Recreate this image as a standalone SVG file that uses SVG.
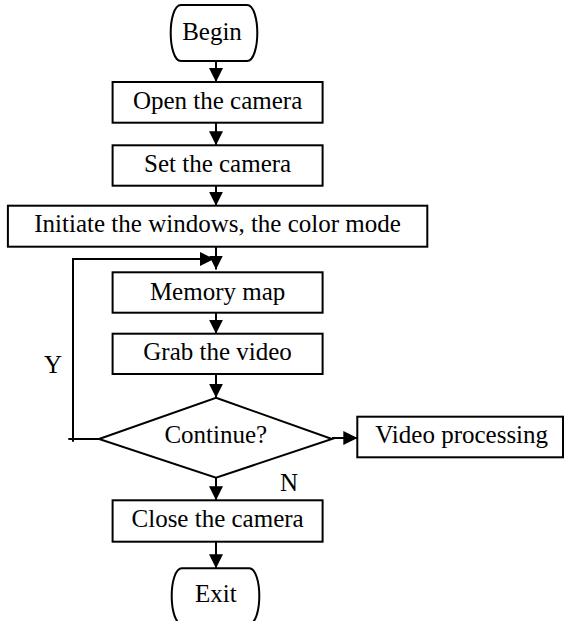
<svg xmlns="http://www.w3.org/2000/svg" width="564" height="621" viewBox="0 0 564 621">
<style>
.box{fill:#fff;stroke:#000;stroke-width:2}
.t{font-family:"Liberation Serif","Times New Roman",serif;font-size:25px;fill:#000;text-anchor:middle}
.ln{fill:none;stroke:#000;stroke-width:2}
</style>
<defs>
<marker id="ah" viewBox="0 0 14 14" refX="14" refY="7" markerWidth="14" markerHeight="14" markerUnits="userSpaceOnUse" orient="auto">
<path d="M0,0 L14,7 L0,14 Z" fill="#000"/>
</marker>
</defs>
<rect width="564" height="621" fill="#fff"/>
<g id="connectors">
<line class="ln" x1="216" y1="61" x2="216" y2="82" marker-end="url(#ah)"/>
<line class="ln" x1="216" y1="122.7" x2="216" y2="145.3" marker-end="url(#ah)"/>
<line class="ln" x1="216" y1="185.7" x2="216" y2="205.7" marker-end="url(#ah)"/>
<line class="ln" x1="216" y1="246.7" x2="216" y2="269.5" marker-end="url(#ah)"/>
<polyline class="ln" points="73,441.7 73,259 214,259" marker-end="url(#ah)"/>
<line class="ln" x1="68.3" y1="439" x2="99" y2="439"/>
<line class="ln" x1="216" y1="312.7" x2="216" y2="333.7" marker-end="url(#ah)"/>
<line class="ln" x1="216" y1="374" x2="216" y2="397.7" marker-end="url(#ah)"/>
<line class="ln" x1="332" y1="438" x2="357.3" y2="438" marker-end="url(#ah)"/>
<line class="ln" x1="216" y1="477.7" x2="216" y2="500.3" marker-end="url(#ah)"/>
<line class="ln" x1="216" y1="541.7" x2="216" y2="568.3" marker-end="url(#ah)"/>
</g>
<g id="begin">
<path class="box" d="M181,5 H247 C254,5 257.3,20 257.3,33 C257.3,46 254,61 247,61 H181 C174,61 170.7,46 170.7,33 C170.7,20 174,5 181,5 Z"/>
<text class="t" x="212" y="40">Begin</text>
</g>
<g id="open">
<rect class="box" x="112.6" y="82" width="210" height="40.7"/>
<text class="t" x="217.6" y="109">Open the camera</text>
</g>
<g id="set">
<rect class="box" x="112.6" y="145.3" width="210" height="40.4"/>
<text class="t" x="217.6" y="171.7">Set the camera</text>
</g>
<g id="init">
<rect class="box" x="7.9" y="205.7" width="419.4" height="41"/>
<text class="t" x="217.6" y="231.7">Initiate the windows, the color mode</text>
</g>
<g id="memory">
<rect class="box" x="112.6" y="272.3" width="210" height="40.4"/>
<text class="t" x="217.6" y="300">Memory map</text>
</g>
<g id="grab">
<rect class="box" x="112.6" y="333.7" width="210" height="40.3"/>
<text class="t" x="217.6" y="360">Grab the video</text>
</g>
<g id="continue">
<polygon class="box" points="216,397.7 332,439 216,477.7 99,439"/>
<text class="t" x="215.8" y="442.7">Continue?</text>
</g>
<g id="video">
<rect class="box" x="357.3" y="416.7" width="205.7" height="40.6"/>
<text class="t" x="461.7" y="443.3">Video processing</text>
</g>
<g id="close">
<rect class="box" x="112.6" y="500.3" width="210" height="41.4"/>
<text class="t" x="217.6" y="527.3">Close the camera</text>
</g>
<g id="exit">
<path class="box" d="M182,568.3 H249 C256,568.3 259.3,583 259.3,596 C259.3,609 256,624 249,624 H182 C175,624 171.7,609 171.7,596 C171.7,583 175,568.3 182,568.3 Z"/>
<text class="t" x="215.8" y="602">Exit</text>
</g>
<g id="labels">
<text class="t" x="53" y="373.3">Y</text>
<text class="t" x="289" y="491">N</text>
</g>
</svg>
